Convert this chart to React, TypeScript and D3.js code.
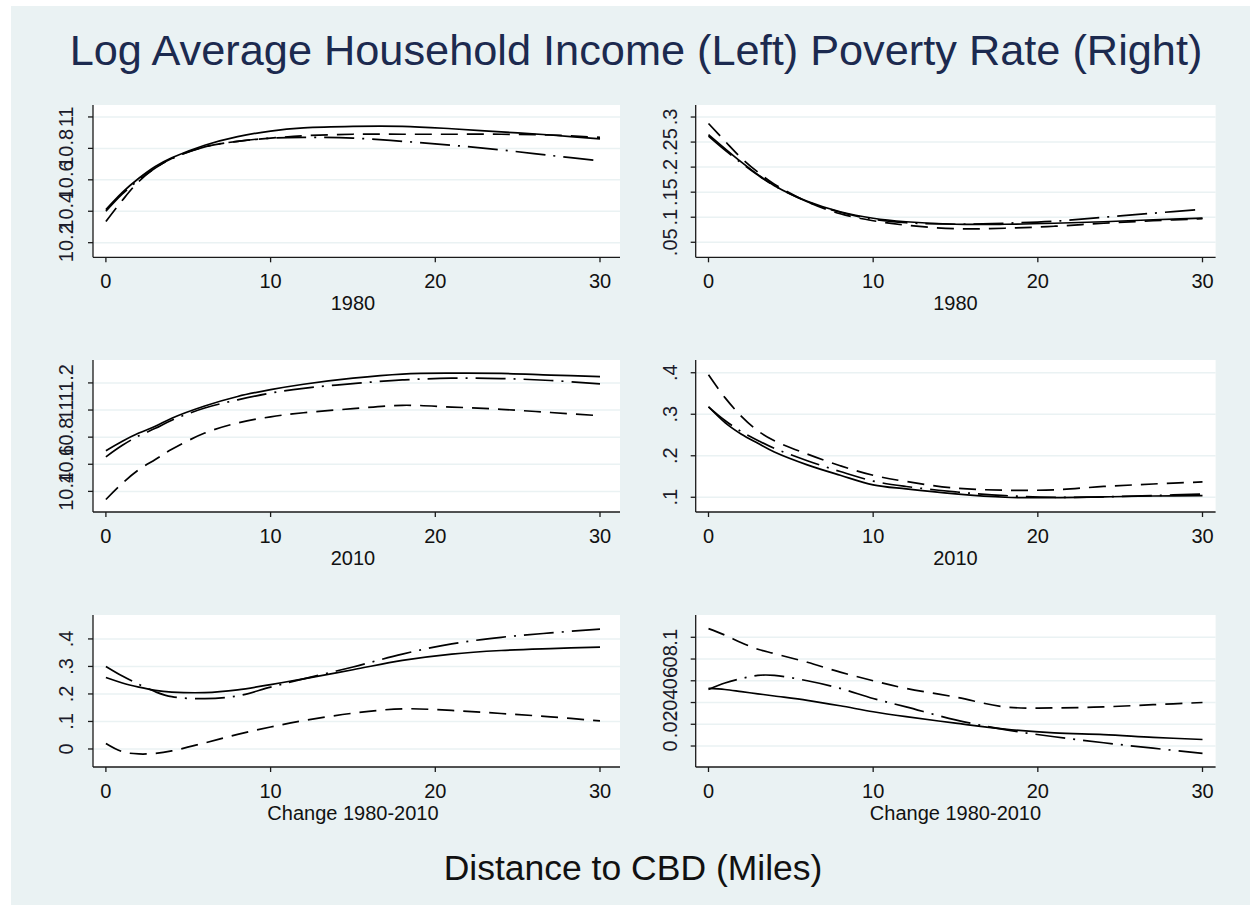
import React from "react";
import * as d3 from "d3";

// Distance to CBD (miles) at which curves are read
const distance = [0, 1, 2, 3, 4, 6, 8, 10, 12, 15, 18, 21, 24, 27, 30];

// Log average household income, 1980
const inc1980Solid = [10.41, 10.52, 10.61, 10.685, 10.74, 10.82, 10.875, 10.91, 10.93, 10.94, 10.94, 10.925, 10.905, 10.885, 10.86];
const inc1980Dash = [10.335, 10.47, 10.59, 10.675, 10.735, 10.81, 10.845, 10.865, 10.88, 10.89, 10.89, 10.89, 10.89, 10.885, 10.87];
const inc1980DashDot = [10.4, 10.51, 10.6, 10.675, 10.735, 10.81, 10.845, 10.865, 10.87, 10.865, 10.845, 10.82, 10.79, 10.755, 10.72];

// Log average household income, 2010
const inc2010Solid = [10.7, 10.77, 10.83, 10.88, 10.94, 11.03, 11.1, 11.15, 11.19, 11.235, 11.265, 11.272, 11.27, 11.258, 11.247];
const inc2010Dash = [10.34, 10.46, 10.56, 10.635, 10.71, 10.83, 10.905, 10.95, 10.98, 11.01, 11.035, 11.022, 11.005, 10.982, 10.958];
const inc2010DashDot = [10.655, 10.74, 10.81, 10.865, 10.925, 11.015, 11.075, 11.125, 11.16, 11.195, 11.222, 11.235, 11.232, 11.218, 11.193];

// Income change 1980-2010
const incChangeSolid = [0.26, 0.24, 0.225, 0.213, 0.207, 0.205, 0.215, 0.234, 0.255, 0.288, 0.322, 0.345, 0.358, 0.365, 0.37];
const incChangeDash = [0.02, -0.01, -0.018, -0.016, -0.007, 0.022, 0.053, 0.08, 0.103, 0.13, 0.146, 0.14, 0.129, 0.117, 0.102];
const incChangeDashDot = [0.3, 0.265, 0.235, 0.208, 0.19, 0.183, 0.193, 0.225, 0.255, 0.298, 0.345, 0.382, 0.406, 0.422, 0.436];

// Poverty rate, 1980
const pov1980Solid = [0.265, 0.237, 0.21, 0.185, 0.163, 0.132, 0.111, 0.098, 0.091, 0.086, 0.086, 0.088, 0.091, 0.095, 0.098];
const pov1980Dash = [0.287, 0.252, 0.218, 0.19, 0.166, 0.131, 0.107, 0.093, 0.084, 0.077, 0.078, 0.082, 0.088, 0.093, 0.097];
const pov1980DashDot = [0.262, 0.234, 0.208, 0.184, 0.163, 0.131, 0.11, 0.096, 0.089, 0.086, 0.088, 0.092, 0.1, 0.108, 0.116];

// Poverty rate, 2010
const pov2010Solid = [0.318, 0.28, 0.252, 0.23, 0.209, 0.178, 0.153, 0.13, 0.12, 0.108, 0.1, 0.099, 0.101, 0.103, 0.104];
const pov2010Dash = [0.395, 0.34, 0.295, 0.26, 0.236, 0.204, 0.176, 0.153, 0.138, 0.122, 0.117, 0.118, 0.126, 0.132, 0.137];
const pov2010DashDot = [0.318, 0.285, 0.258, 0.237, 0.218, 0.188, 0.162, 0.139, 0.126, 0.113, 0.104, 0.1, 0.101, 0.104, 0.108];

// Poverty change 1980-2010
const povChangeSolid = [0.053, 0.052, 0.05, 0.048, 0.046, 0.042, 0.037, 0.0315, 0.027, 0.021, 0.0155, 0.012, 0.0105, 0.008, 0.006];
const povChangeDash = [0.108, 0.102, 0.095, 0.089, 0.085, 0.077, 0.068, 0.06, 0.053, 0.045, 0.036, 0.035, 0.036, 0.038, 0.04];
const povChangeDashDot = [0.052, 0.058, 0.062, 0.065, 0.065, 0.06, 0.053, 0.0437, 0.036, 0.024, 0.015, 0.0085, 0.003, -0.002, -0.0067];

// Axis ticks
const xTicks = [0, 10, 20, 30];
const inc1980Ticks = [10.2, 10.4, 10.6, 10.8, 11];
const inc1980TickLabels = ["10.2", "10.4", "10.6", "10.8", "11"];
const inc2010Ticks = [10.4, 10.6, 10.8, 11, 11.2];
const inc2010TickLabels = ["10.4", "10.6", "10.8", "11", "11.2"];
const incChangeTicks = [0, 0.1, 0.2, 0.3, 0.4];
const incChangeTickLabels = ["0", ".1", ".2", ".3", ".4"];
const pov1980Ticks = [0.05, 0.1, 0.15, 0.2, 0.25, 0.3];
const pov1980TickLabels = [".05", ".1", ".15", ".2", ".25", ".3"];
const pov2010Ticks = [0.1, 0.2, 0.3, 0.4];
const pov2010TickLabels = [".1", ".2", ".3", ".4"];
const povChangeTicks = [0, 0.02, 0.04, 0.06, 0.08, 0.1];
const povChangeTickLabels = ["0", ".02", ".04", ".06", ".08", ".1"];

const subtitles = ["1980", "2010", "Change 1980-2010"];
const title = "Log Average Household Income (Left) Poverty Rate (Right)";
const xTitle = "Distance to CBD (Miles)";

const FONT = "'Liberation Sans', Arial, Helvetica, sans-serif";
const DASHES = [null, "17,9", "30,8,2,8"];

type Panel = {
  col: number;
  row: number;
  ticks: number[];
  labels: string[];
  domain: [number, number];
  series: number[][];
};

const panels: Panel[] = [
  { col: 0, row: 0, ticks: inc1980Ticks, labels: inc1980TickLabels, domain: [10.107, 11.076], series: [inc1980Solid, inc1980Dash, inc1980DashDot] },
  { col: 1, row: 0, ticks: pov1980Ticks, labels: pov1980TickLabels, domain: [0.02, 0.324], series: [pov1980Solid, pov1980Dash, pov1980DashDot] },
  { col: 0, row: 1, ticks: inc2010Ticks, labels: inc2010TickLabels, domain: [10.248, 11.369], series: [inc2010Solid, inc2010Dash, inc2010DashDot] },
  { col: 1, row: 1, ticks: pov2010Ticks, labels: pov2010TickLabels, domain: [0.0645, 0.4307], series: [pov2010Solid, pov2010Dash, pov2010DashDot] },
  { col: 0, row: 2, ticks: incChangeTicks, labels: incChangeTickLabels, domain: [-0.0655, 0.487], series: [incChangeSolid, incChangeDash, incChangeDashDot] },
  { col: 1, row: 2, ticks: povChangeTicks, labels: povChangeTickLabels, domain: [-0.0193, 0.1205], series: [povChangeSolid, povChangeDash, povChangeDashDot] },
];

const rowTop = [105, 360, 615];
const rowBottom = [257.3, 512, 767];
const colAxis = [93, 695.7];
const colRight = [620, 1215.6];
const colX0 = [105.9, 708.5];
const colX30 = [600, 1202.5];
const colLabelGap = [20, 19];

function PanelView({ p }: { p: Panel }) {
  const top = rowTop[p.row];
  const bottom = rowBottom[p.row];
  const ax = colAxis[p.col];
  const right = colRight[p.col];
  const x = d3.scaleLinear().domain([0, 30]).range([colX0[p.col], colX30[p.col]]);
  const y = d3.scaleLinear().domain(p.domain).range([bottom, top]);
  const line = d3
    .line<number>()
    .x((_, i) => x(distance[i]))
    .y((v) => y(v))
    .curve(d3.curveCatmullRom.alpha(0.5));
  const labelX = ax - colLabelGap[p.col];
  return (
    <g>
      <rect x={ax} y={top} width={right - ax} height={bottom - top} fill="#ffffff" />
      {p.ticks.map((t) => (
        <line key={"g" + t} x1={ax} x2={right} y1={y(t)} y2={y(t)} stroke="#eaf2f3" strokeWidth={1.5} />
      ))}
      {p.series.map((s, i) => (
        <path
          key={"s" + i}
          d={line(s) || ""}
          fill="none"
          stroke="#000"
          strokeWidth={1.7}
          strokeDasharray={DASHES[i] || undefined}
        />
      ))}
      <line x1={ax} x2={ax} y1={top} y2={bottom} stroke="#1a1a1a" strokeWidth={1.3} />
      <line x1={ax} x2={right} y1={bottom} y2={bottom} stroke="#1a1a1a" strokeWidth={1.3} />
      {p.ticks.map((t, i) => (
        <g key={"yt" + t}>
          <line x1={ax - 5} x2={ax} y1={y(t)} y2={y(t)} stroke="#1a1a1a" strokeWidth={1.3} />
          <text
            transform={`translate(${labelX},${y(t)}) rotate(-90)`}
            textAnchor="middle"
            fontFamily={FONT}
            fontSize={20}
            fill="#1b1b2a"
          >
            {p.labels[i]}
          </text>
        </g>
      ))}
      {xTicks.map((t) => (
        <g key={"xt" + t}>
          <line x1={x(t)} x2={x(t)} y1={bottom} y2={bottom + 5} stroke="#1a1a1a" strokeWidth={1.3} />
          <text x={x(t)} y={bottom + 31} textAnchor="middle" fontFamily={FONT} fontSize={20} fill="#111">
            {String(t)}
          </text>
        </g>
      ))}
      <text x={x(15)} y={bottom + 53} textAnchor="middle" fontFamily={FONT} fontSize={20} fill="#111">
        {subtitles[p.row]}
      </text>
    </g>
  );
}

export default function App() {
  return (
    <svg
      width={1254}
      height={911}
      style={{ position: "absolute", left: 0, top: 0, display: "block" }}
    >
      <rect x={0} y={0} width={1254} height={911} fill="#ffffff" />
      <rect x={11} y={6} width={1239} height={899} fill="#eaf2f3" />
      <text x={636} y={65} textAnchor="middle" fontFamily={FONT} fontSize={43.3} fill="#1c2a4f">
        {title}
      </text>
      {panels.map((p, i) => (
        <PanelView key={i} p={p} />
      ))}
      <text x={633} y={880} textAnchor="middle" fontFamily={FONT} fontSize={35.5} fill="#111">
        {xTitle}
      </text>
    </svg>
  );
}
